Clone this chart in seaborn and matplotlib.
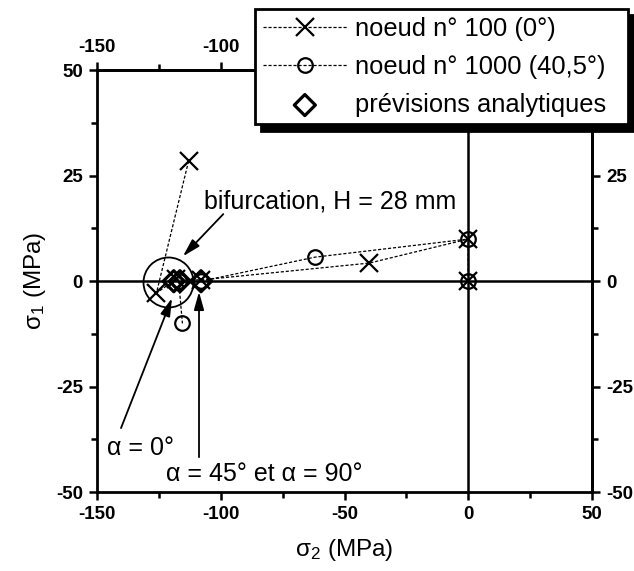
import matplotlib
matplotlib.use("Agg")
import matplotlib.pyplot as plt
import seaborn as sns
import pandas as pd
from matplotlib.ticker import MultipleLocator

# data (sigma2, sigma1 in MPa)
noeud100_s2 = [0, 0, -40, -108, -118, -126, -113]
noeud100_s1 = [0, 10, 4.3, 0.3, 0.5, -2.8, 28.5]
noeud1000_s2 = [0, 0, -62, -108, -117, -115.5]
noeud1000_s1 = [0, 10, 5.7, 0, 0, -10]
prev_s2 = [-119, -116.5, -108]
prev_s1 = [0, 0, 0]
bifurcation_center = (-121.5, -0.3)

labels = ["noeud n° 100 (0°)", "noeud n° 1000 (40,5°)", "prévisions analytiques"]

# tick labels; the top-right ones sit under the legend in the original
x_ticks = [-150, -100, -50, 0, 50]
top_labels = ["-150", "-100", "", "", ""]
y_ticks = [-50, -25, 0, 25, 50]
right_labels = ["-50", "-25", "0", "25", ""]

df100 = pd.DataFrame({"s2": noeud100_s2, "s1": noeud100_s1})
df1000 = pd.DataFrame({"s2": noeud1000_s2, "s1": noeud1000_s1})
dfprev = pd.DataFrame({"s2": prev_s2, "s1": prev_s1})

sns.set_theme(style="ticks")
plt.rcParams["font.family"] = ["Liberation Sans", "DejaVu Sans"]
plt.rcParams["mathtext.fontset"] = "custom"
plt.rcParams["mathtext.rm"] = "Liberation Sans"
plt.rcParams["axes.unicode_minus"] = False
plt.rcParams["text.color"] = "black"
plt.rcParams["axes.labelcolor"] = "black"
plt.rcParams["xtick.color"] = "black"
plt.rcParams["ytick.color"] = "black"

fig = plt.figure(figsize=(6.34, 5.71), dpi=100)
ax = fig.add_axes([0.153, 0.138, 0.781, 0.739])

# zero lines
ax.axhline(0, color="black", lw=1.8, zorder=1)
ax.axvline(0, color="black", lw=1.8, zorder=1)

sns.lineplot(data=df100, x="s2", y="s1", sort=False, estimator=None, ax=ax,
             color="black", lw=0.9, linestyle=(0, (2.5, 1.5)), marker="x",
             markersize=12.5, markeredgecolor="black", mew=1.6, label=labels[0], zorder=3)
sns.lineplot(data=df1000, x="s2", y="s1", sort=False, estimator=None, ax=ax,
             color="black", lw=0.9, linestyle=(0, (2.5, 1.5)), marker="o",
             markersize=10.5, markeredgecolor="black", markerfacecolor="none", mew=1.6,
             label=labels[1], zorder=3)
sns.scatterplot(data=dfprev, x="s2", y="s1", ax=ax, marker="D", s=115,
                facecolor="none", edgecolor="black", linewidth=2.3, label=labels[2], zorder=4)

# circle marking the bifurcation
ax.plot([bifurcation_center[0]], [bifurcation_center[1]], marker="o", ms=36,
        mfc="none", mec="black", mew=1.3, zorder=2)

ax.set_xlim(-150, 50)
ax.set_ylim(-50, 50)
ax.xaxis.set_major_locator(MultipleLocator(50))
ax.xaxis.set_minor_locator(MultipleLocator(25))
ax.yaxis.set_major_locator(MultipleLocator(25))
ax.yaxis.set_minor_locator(MultipleLocator(12.5))

# top and right axes
top = ax.secondary_xaxis("top")
top.set_xticks(x_ticks, labels=top_labels)
top.xaxis.set_minor_locator(MultipleLocator(25))
right = ax.secondary_yaxis("right")
right.set_yticks(y_ticks, labels=right_labels)
right.yaxis.set_minor_locator(MultipleLocator(12.5))

for a in (ax, top, right):
    a.tick_params(which="both", direction="out", width=1.8, color="black")
    a.tick_params(which="major", length=6, pad=4, labelsize=13.5)
    a.tick_params(which="minor", length=4.5)
    for lab in a.get_xticklabels() + a.get_yticklabels():
        lab.set_fontweight("bold")
    for sp in a.spines.values():
        sp.set_linewidth(2.0)
        sp.set_color("black")
for sp in ax.spines.values():
    sp.set_visible(True)

ax.set_xlabel(r"$\mathregular{\sigma_2}$ (MPa)", fontsize=17.5, labelpad=10)
ax.set_ylabel(r"$\mathregular{\sigma_1}$ (MPa)", fontsize=17.5, labelpad=6)

arrow = dict(arrowstyle="-|>,head_length=0.9,head_width=0.25", color="black", lw=1.3,
             shrinkA=0, shrinkB=0)
ax.annotate("", xy=(-115.3, 5.9), xytext=(-99, 15.9), arrowprops=arrow)
ax.text(-56, 19, "bifurcation, H = 28 mm", fontsize=18, ha="center", va="center")
ax.annotate("", xy=(-119.7, -4), xytext=(-140.3, -34.8), arrowprops=arrow)
ax.text(-132.6, -39.6, "α = 0°", fontsize=18, ha="center", va="center")
ax.annotate("", xy=(-108.8, -2.5), xytext=(-108.8, -41.7), arrowprops=arrow)
ax.text(-82.5, -45.7, "α = 45° et α = 90°", fontsize=18, ha="center", va="center")

handles, labs = ax.get_legend_handles_labels()
ax.get_legend().remove()
leg_x0, leg_x1, leg_top = 255 / 634, 628 / 634, 1 - 9 / 571
leg = fig.legend(handles, labs, loc="upper left",
                 bbox_to_anchor=(leg_x0, leg_top - 0.2, leg_x1 - leg_x0, 0.2),
                 bbox_transform=fig.transFigure, mode="expand", fontsize=18.4,
                 frameon=True, fancybox=False, edgecolor="black", framealpha=1,
                 borderaxespad=0, handlelength=3.3, handletextpad=0.3,
                 labelspacing=0.55, borderpad=0.3,
                 shadow={"ox": 4.5, "oy": -4.5, "color": "black", "alpha": 1})
leg.get_frame().set_linewidth(2.0)

fig.savefig("out.png", dpi=100)
